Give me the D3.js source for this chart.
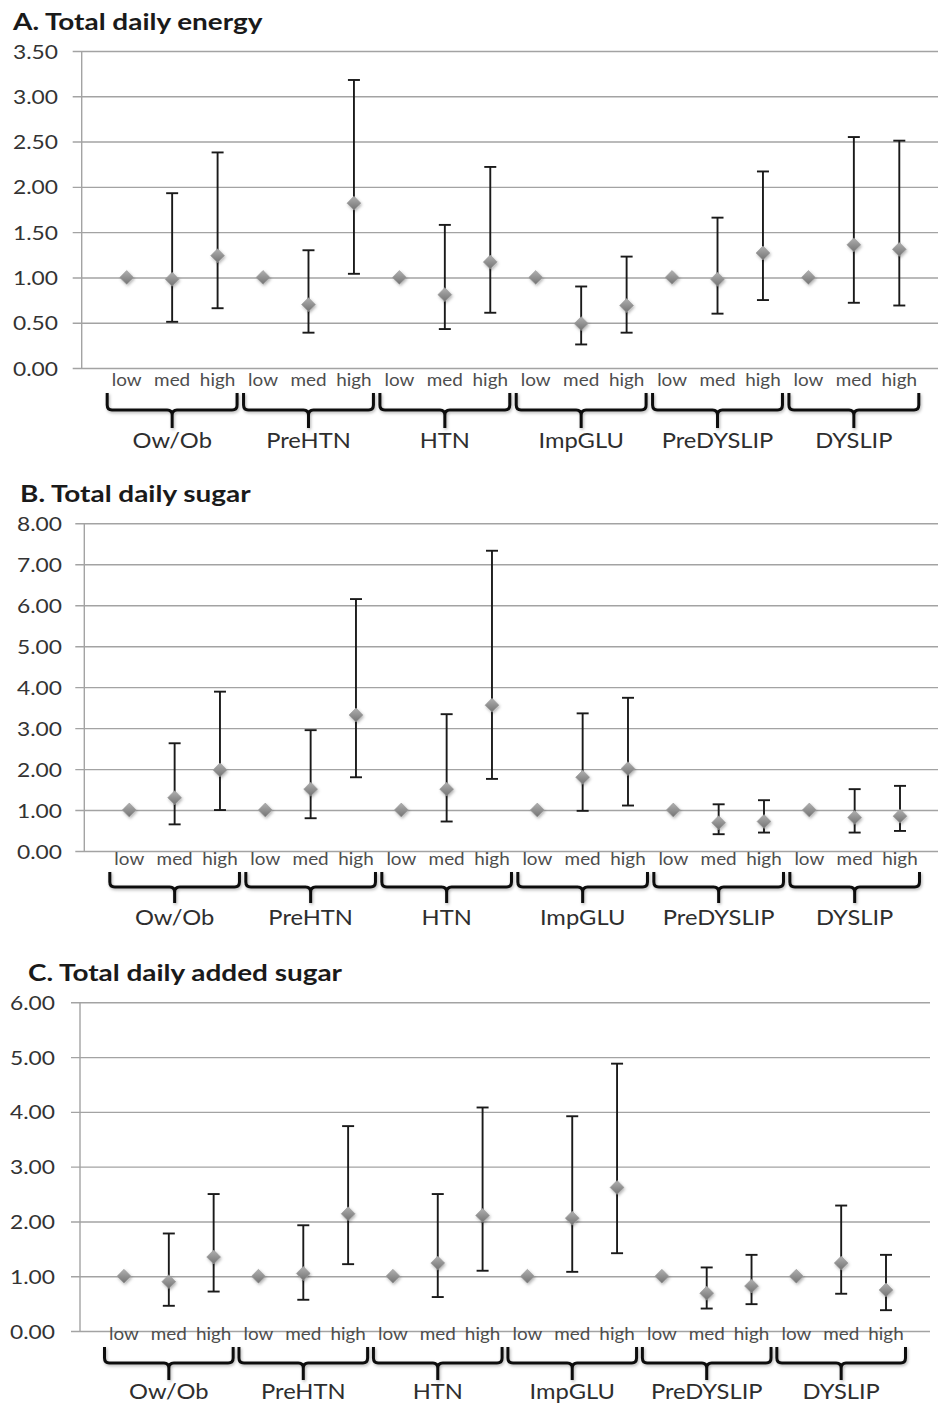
<!DOCTYPE html>
<html>
<head>
<meta charset="utf-8">
<script src="https://cdn.jsdelivr.net/npm/d3@7"></script>
<style>
  body { margin: 0; background: #fff; }
  svg { display: block; }
</style>
</head>
<body>
<svg id="chart" width="938" height="1405"></svg>
<script>
// Outcome groups and intake levels (low is the reference category)
const groups = ["Ow/Ob", "PreHTN", "HTN", "ImpGLU", "PreDYSLIP", "DYSLIP"];
const levels = ["low", "med", "high"];

// A. Total daily energy — odds ratio and 95% CI, listed group by group (low, med, high)
const energyOR    = [1.00, 0.98, 1.24, 1.00, 0.70, 1.82, 1.00, 0.81, 1.17, 1.00, 0.49, 0.69, 1.00, 0.98, 1.27, 1.00, 1.36, 1.31];
const energyLower = [null, 0.51, 0.66, null, 0.39, 1.04, null, 0.43, 0.61, null, 0.26, 0.39, null, 0.60, 0.75, null, 0.72, 0.69];
const energyUpper = [null, 1.93, 2.38, null, 1.30, 3.18, null, 1.58, 2.22, null, 0.90, 1.23, null, 1.66, 2.17, null, 2.55, 2.51];
const energyTicks = [0, 0.5, 1, 1.5, 2, 2.5, 3, 3.5];

// B. Total daily sugar
const sugarOR    = [1.00, 1.30, 1.98, 1.00, 1.51, 3.32, 1.00, 1.51, 3.56, 1.00, 1.80, 2.01, 1.00, 0.69, 0.72, 1.00, 0.82, 0.85];
const sugarLower = [null, 0.65, 1.00, null, 0.80, 1.80, null, 0.72, 1.76, null, 0.98, 1.11, null, 0.41, 0.45, null, 0.45, 0.49];
const sugarUpper = [null, 2.63, 3.89, null, 2.95, 6.15, null, 3.34, 7.33, null, 3.36, 3.74, null, 1.14, 1.24, null, 1.51, 1.59];
const sugarTicks = [0, 1, 2, 3, 4, 5, 6, 7, 8];

// C. Total daily added sugar
const addedOR    = [1.00, 0.90, 1.35, 1.00, 1.05, 2.14, 1.00, 1.24, 2.11, 1.00, 2.06, 2.62, 1.00, 0.69, 0.82, 1.00, 1.24, 0.75];
const addedLower = [null, 0.46, 0.72, null, 0.57, 1.22, null, 0.62, 1.10, null, 1.08, 1.42, null, 0.41, 0.49, null, 0.68, 0.38];
const addedUpper = [null, 1.78, 2.50, null, 1.93, 3.74, null, 2.50, 4.08, null, 3.92, 4.88, null, 1.16, 1.39, null, 2.29, 1.39];
const addedTicks = [0, 1, 2, 3, 4, 5, 6];

const panels = [
  { title: "A. Total daily energy", or: energyOR, lo: energyLower, hi: energyUpper, ticks: energyTicks,
    titleX: 13, titleY: 30, yBottom: 368, yTop: 51, axisX: 81.7, gridRight: 938, tickRight: 58,
    xFirst: 126.7, xLast: 899.3, subY: 386, braceTop: 393, braceMid: 410, braceTip: 428, groupY: 448 },
  { title: "B. Total daily sugar", or: sugarOR, lo: sugarLower, hi: sugarUpper, ticks: sugarTicks,
    titleX: 20, titleY: 502, yBottom: 851, yTop: 523.3, axisX: 84.3, gridRight: 938, tickRight: 62,
    xFirst: 129.3, xLast: 900, subY: 865, braceTop: 872, braceMid: 887, braceTip: 903, groupY: 925 },
  { title: "C. Total daily added sugar", or: addedOR, lo: addedLower, hi: addedUpper, ticks: addedTicks,
    titleX: 28, titleY: 981, yBottom: 1331, yTop: 1002.3, axisX: 80, gridRight: 930, tickRight: 55,
    xFirst: 124, xLast: 886, subY: 1340, braceTop: 1347, braceMid: 1363, braceTip: 1380, groupY: 1399 }
];

// Type styles: the lettering is set slightly wide (horizontal stretch factor sx)
const FONT = "Lato, 'Open Sans', sans-serif";
const TYPE = {
  title: { size: 22, weight: 700, sx: 1.27, fill: "#1a1a1a" },
  tick:  { size: 20, weight: 400, sx: 1.14, fill: "#333" },
  level: { size: 17.5, weight: 400, sx: 1.08, fill: "#4d4d4d" },
  group: { size: 21, weight: 400, sx: 1.13, fill: "#2e2e2e" }
};
function styleText(sel, t) {
  return sel.attr("font-family", FONT).attr("font-size", t.size)
    .attr("font-weight", t.weight).attr("fill", t.fill);
}

const svg = d3.select("#chart");

const defs = svg.append("defs");
const grad = defs.append("linearGradient").attr("id", "diamondFill")
  .attr("x1", "0").attr("y1", "0").attr("x2", "1").attr("y2", "1");
grad.append("stop").attr("offset", "0%").attr("stop-color", "#b0b0b0");
grad.append("stop").attr("offset", "100%").attr("stop-color", "#737373");
const shadow = defs.append("filter").attr("id", "softShadow")
  .attr("x", "-30%").attr("y", "-30%").attr("width", "160%").attr("height", "160%");
shadow.append("feDropShadow").attr("dx", 1).attr("dy", 1.5).attr("stdDeviation", 1.4)
  .attr("flood-color", "#000").attr("flood-opacity", 0.3);

// Full category list: one point per group × level
const cats = [];
groups.forEach(g => levels.forEach(l => cats.push(g + "|" + l)));

panels.forEach(p => {
  const g = svg.append("g");

  const y = d3.scaleLinear().domain([d3.min(p.ticks), d3.max(p.ticks)]).range([p.yBottom, p.yTop]);
  const x = d3.scalePoint().domain(cats).range([p.xFirst, p.xLast]);

  // Title
  styleText(g.append("text"), TYPE.title)
    .attr("transform", `translate(${p.titleX},${p.titleY}) scale(${TYPE.title.sx},1)`)
    .text(p.title);

  // Horizontal gridlines with left stubs (y axis)
  const yAxis = d3.axisLeft(y).tickValues(p.ticks)
    .tickSize(-(p.gridRight - p.axisX)).tickSizeOuter(0).tickPadding(0)
    .tickFormat(d3.format(".2f"));
  const ax = g.append("g").attr("transform", `translate(${p.axisX},0)`).call(yAxis);
  ax.select(".domain").remove();
  ax.selectAll(".tick line").attr("stroke", "#a3a3a3").attr("stroke-width", 1.4)
    .attr("x1", -9);
  styleText(ax.selectAll(".tick text"), TYPE.tick)
    .attr("x", 0).attr("dy", "0.35em").attr("text-anchor", "end")
    .attr("transform", `translate(${p.tickRight - p.axisX},0) scale(${TYPE.tick.sx},1)`);
  // vertical axis line
  g.append("line").attr("x1", p.axisX).attr("x2", p.axisX)
    .attr("y1", y.range()[1]).attr("y2", y.range()[0])
    .attr("stroke", "#a3a3a3").attr("stroke-width", 1.4);

  // Level labels under each point
  styleText(g.append("g").selectAll("text").data(cats).join("text"), TYPE.level)
    .attr("text-anchor", "middle")
    .attr("transform", d => `translate(${x(d)},${p.subY}) scale(${TYPE.level.sx},1)`)
    .text(d => d.split("|")[1]);

  // Braces grouping the three levels of each outcome
  const braceG = g.append("g").attr("filter", "url(#softShadow)");
  groups.forEach(gr => {
    const xl = x(gr + "|low") - 19.5, xr = x(gr + "|high") + 19.5;
    const xc = (x(gr + "|low") + x(gr + "|high")) / 2;
    const r = 5;
    const path = `M${xl},${p.braceTop} L${xl},${p.braceMid - r} Q${xl},${p.braceMid} ${xl + r},${p.braceMid}`
      + ` L${xc - r},${p.braceMid} Q${xc},${p.braceMid} ${xc},${p.braceMid + r} L${xc},${p.braceTip}`
      + ` M${xr},${p.braceTop} L${xr},${p.braceMid - r} Q${xr},${p.braceMid} ${xr - r},${p.braceMid}`
      + ` L${xc + r},${p.braceMid} Q${xc},${p.braceMid} ${xc},${p.braceMid + r}`;
    braceG.append("path").attr("d", path).attr("fill", "none")
      .attr("stroke", "#111").attr("stroke-width", 3).attr("stroke-linejoin", "round");
    styleText(g.append("text"), TYPE.group).attr("text-anchor", "middle")
      .attr("transform", `translate(${xc},${p.groupY}) scale(${TYPE.group.sx},1)`)
      .text(gr);
  });

  // Error bars (95% CI)
  const rows = cats.map((c, i) => ({ c, or: p.or[i], lo: p.lo[i], hi: p.hi[i] }));
  const bars = g.append("g").selectAll("g").data(rows.filter(d => d.lo != null)).join("g");
  bars.append("line").attr("x1", d => x(d.c)).attr("x2", d => x(d.c))
    .attr("y1", d => y(d.lo)).attr("y2", d => y(d.hi))
    .attr("stroke", "#1a1a1a").attr("stroke-width", 1.9);
  ["lo", "hi"].forEach(k => {
    bars.append("line").attr("x1", d => x(d.c) - 6).attr("x2", d => x(d.c) + 6)
      .attr("y1", d => y(d[k])).attr("y2", d => y(d[k]))
      .attr("stroke", "#1a1a1a").attr("stroke-width", 1.9);
  });

  // Point estimates as diamonds
  const diamond = d3.symbol().type(d3.symbolSquare).size(96);
  g.append("g").attr("filter", "url(#softShadow)").selectAll("path").data(rows).join("path")
    .attr("d", diamond)
    .attr("transform", d => `translate(${x(d.c)},${y(d.or)}) rotate(45)`)
    .attr("fill", "url(#diamondFill)").attr("stroke", "#9a9a9a").attr("stroke-width", 0.6);
});
</script>
</body>
</html>
